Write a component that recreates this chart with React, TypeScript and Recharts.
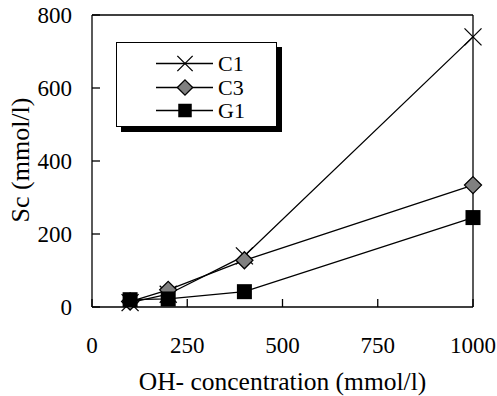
import React from "react";
import {
  LineChart,
  Line,
  XAxis,
  YAxis,
  Legend,
  ReferenceLine,
} from "recharts";

const concentrations = [100, 200, 400, 1000];
const c1Values = [12, 35, 140, 740];
const c3Values = [15, 47, 128, 334];
const g1Values = [20, 22, 42, 245];

const xTicks = [0, 250, 500, 750, 1000];
const yTicks = [0, 200, 400, 600, 800];

const data = concentrations.map((x, i) => ({
  x,
  C1: c1Values[i],
  C3: c3Values[i],
  G1: g1Values[i],
}));

const FONT = "Liberation Serif";
const SW = 1.3;

const Marker = ({ kind, cx, cy, size = 1 }: { kind: string; cx: number; cy: number; size?: number }) => {
  if (kind === "C1") {
    const s = 8.5 * size;
    return (
      <g>
        <line x1={cx - s} y1={cy - s} x2={cx + s} y2={cy + s} stroke="#000" strokeWidth={SW} />
        <line x1={cx - s} y1={cy + s} x2={cx + s} y2={cy - s} stroke="#000" strokeWidth={SW} />
      </g>
    );
  }
  if (kind === "C3") {
    const s = 8.5 * size;
    return (
      <polygon
        points={`${cx},${cy - s} ${cx + s},${cy} ${cx},${cy + s} ${cx - s},${cy}`}
        fill="#808080"
        stroke="#000"
        strokeWidth={SW}
      />
    );
  }
  const s = 7.5 * size;
  return <rect x={cx - s} y={cy - s} width={2 * s} height={2 * s} fill="#000" />;
};

const makeDot = (kind: string) => (props: any) => {
  const { cx, cy, index } = props;
  if (cx == null || cy == null) return <g key={`${kind}-${index}`} />;
  return (
    <g key={`${kind}-${index}`}>
      <Marker kind={kind} cx={cx} cy={cy} />
    </g>
  );
};

const XTick = (props: any) => {
  const { x, y, payload } = props;
  return (
    <g>
      <line x1={x} y1={y} x2={x} y2={y - 8} stroke="#000" strokeWidth={SW} />
      <text x={x} y={y + 46} textAnchor="middle" fontSize={23} fontFamily={FONT} fill="#000">
        {payload.value}
      </text>
    </g>
  );
};

const YTick = (props: any) => {
  const { x, y, payload } = props;
  return (
    <g>
      <line x1={x} y1={y} x2={x + 8} y2={y} stroke="#000" strokeWidth={SW} />
      <text x={x - 20} y={y + 8} textAnchor="end" fontSize={23} fontFamily={FONT} fill="#000">
        {payload.value}
      </text>
    </g>
  );
};

const LegendBox = (props: any) => {
  const items = (props.payload || []) as any[];
  return (
    <div
      style={{
        width: 161,
        height: 85,
        boxSizing: "border-box",
        border: `${SW}px solid #000`,
        background: "#fff",
        boxShadow: "5px 5px 0 #000",
        paddingTop: 9,
      }}
    >
      {items.map((it) => (
        <div key={it.value} style={{ display: "flex", alignItems: "center", height: 23.5 }}>
          <svg width={101} height={23} style={{ display: "block" }}>
            <line x1={39} y1={11.5} x2={96} y2={11.5} stroke="#000" strokeWidth={SW} />
            <Marker kind={it.value} cx={68} cy={11.5} size={0.9} />
          </svg>
          <span style={{ fontFamily: FONT, fontSize: 22, lineHeight: "23px", color: "#000" }}>
            {it.value}
          </span>
        </div>
      ))}
    </div>
  );
};

export default function App() {
  return (
    <div style={{ width: 497, height: 396 }}>
      <style>{"body{margin:0}"}</style>
      <LineChart
        width={497}
        height={396}
        data={data}
        margin={{ top: 15, right: 24, left: 0, bottom: 0 }}
        style={{ fontFamily: FONT }}
      >
        <XAxis
          dataKey="x"
          type="number"
          domain={[0, 1000]}
          ticks={xTicks}
          tick={<XTick />}
          tickLine={false}
          tickSize={0}
          tickMargin={0}
          height={89}
          axisLine={{ stroke: "#000", strokeWidth: SW }}
          label={{
            value: "OH- concentration (mmol/l)",
            position: "insideBottom",
            offset: 6,
            fontSize: 25.5,
            fontFamily: FONT,
            fill: "#000",
          }}
        />
        <YAxis
          type="number"
          domain={[0, 800]}
          ticks={yTicks}
          tick={<YTick />}
          tickLine={false}
          tickSize={0}
          tickMargin={0}
          width={92}
          axisLine={{ stroke: "#000", strokeWidth: SW }}
          label={{
            value: "Sc (mmol/l)",
            angle: -90,
            position: "insideLeft",
            offset: 0,
            dx: 20,
            dy: -1,
            fontSize: 26,
            fontFamily: FONT,
            fill: "#000",
            style: { textAnchor: "middle" },
          }}
        />
        <ReferenceLine y={800} stroke="#000" strokeWidth={SW} />
        <ReferenceLine x={1000} stroke="#000" strokeWidth={SW} />
        <Line dataKey="C1" type="linear" stroke="#000" strokeWidth={SW} dot={makeDot("C1")} isAnimationActive={false} />
        <Line dataKey="C3" type="linear" stroke="#000" strokeWidth={SW} dot={makeDot("C3")} isAnimationActive={false} />
        <Line dataKey="G1" type="linear" stroke="#000" strokeWidth={SW} dot={makeDot("G1")} isAnimationActive={false} />
        <Legend
          layout="vertical"
          align="center"
          verticalAlign="middle"
          content={<LegendBox />}
          wrapperStyle={{ left: 116, top: 42, width: 161, height: 85 }}
        />
      </LineChart>
    </div>
  );
}
